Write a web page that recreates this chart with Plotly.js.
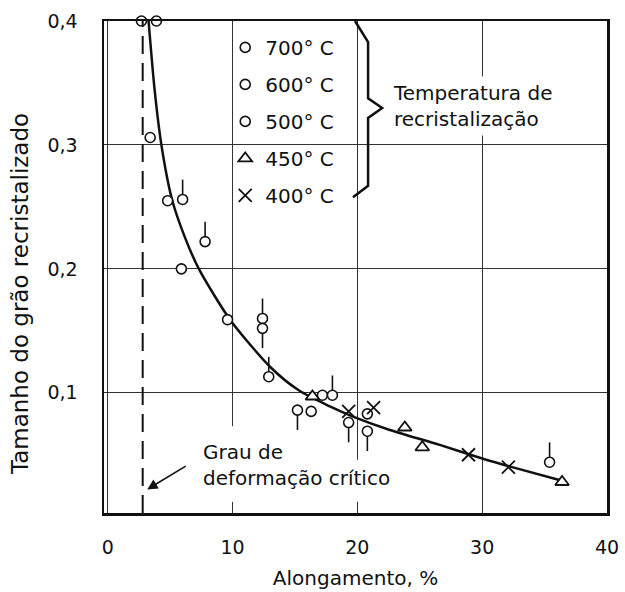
<!DOCTYPE html>
<html>
<head>
<meta charset="utf-8">
<script src="https://cdn.plot.ly/plotly-3.0.1.min.js"></script>
<style>html,body{margin:0;padding:0;background:#fff;}#chart{width:625px;height:592px;}</style>
</head>
<body>
<div id="chart"></div>
<script>
// ---- data ----
const xTicks = [0, 10, 20, 30, 40];
const xTickText = ['0', '10', '20', '30', '40'];
const yTicks = [0.1, 0.2, 0.3, 0.4];
const yTickText = ['0,1', '0,2', '0,3', '0,4'];

const x700 = [2.7, 3.9, 3.4, 4.8, 5.9, 9.6, 16.3, 17.2, 20.8];
const y700 = [0.4, 0.4, 0.306, 0.255, 0.2, 0.159, 0.085, 0.098, 0.083];

const x600 = [6.0, 7.8, 12.4, 12.9, 18.0, 35.4];
const y600 = [0.256, 0.222, 0.160, 0.113, 0.098, 0.044];

const x500 = [12.4, 15.2, 19.3, 20.8];
const y500 = [0.152, 0.086, 0.076, 0.069];

const x450 = [16.4, 23.8, 25.2, 36.4];
const y450 = [0.097, 0.072, 0.056, 0.028];

const x400 = [19.3, 21.3, 28.9, 32.1];
const y400 = [0.085, 0.088, 0.050, 0.040];

const curveX = [3.27, 3.75, 4.3, 5.15, 6.2, 7.3, 9.8, 13.0, 15.3, 17.8, 19.6, 22.6, 26.6, 30.0, 32.4, 36.4];
const curveY = [0.4, 0.345, 0.30, 0.256, 0.225, 0.2, 0.159, 0.121, 0.102, 0.089, 0.081, 0.070, 0.058, 0.047, 0.040, 0.029];

const criticalStrain = 2.8;

const legendNames = ['700° C', '600° C', '500° C', '450° C', '400° C'];

// ---- styles ----
const ink = '#111';
const circleMarker = {symbol: 'circle', size: 10, color: '#fff', line: {color: ink, width: 1.6}};
const stemLen = 0.016;

const traces = [
  {x: curveX, y: curveY, mode: 'lines', line: {color: ink, width: 2.5, shape: 'spline', smoothing: 0.7},
   showlegend: false, hoverinfo: 'skip', cliponaxis: false},
  {x: x700, y: y700, mode: 'markers', name: legendNames[0], legendgroup: 'g700',
   marker: circleMarker, cliponaxis: false},
  {x: x600, y: y600, mode: 'markers', name: legendNames[1], legendgroup: 'g600',
   marker: circleMarker, cliponaxis: false,
   error_y: {type: 'constant', symmetric: false, value: stemLen, valueminus: 0, thickness: 1.6, width: 0, color: ink}},
  {x: x500, y: y500, mode: 'markers', name: legendNames[2], legendgroup: 'g500',
   marker: circleMarker, cliponaxis: false,
   error_y: {type: 'constant', symmetric: false, value: 0, valueminus: stemLen, thickness: 1.6, width: 0, color: ink}},
  {x: x450, y: y450, mode: 'markers', name: legendNames[3], legendgroup: 'g450',
   marker: {symbol: 'triangle-up', size: 12, color: '#fff', line: {color: ink, width: 1.8}}, cliponaxis: false},
  {x: x400, y: y400, mode: 'markers', name: legendNames[4], legendgroup: 'g400',
   marker: {symbol: 'x-thin', size: 13, color: ink, line: {color: ink, width: 1.8}}, cliponaxis: false}
];

const layout = {
  width: 625, height: 592,
  margin: {l: 104, r: 18, t: 21, b: 79},
  paper_bgcolor: '#fff', plot_bgcolor: '#fff',
  font: {family: 'DejaVu Sans, sans-serif', size: 20, color: ink},
  showlegend: true,
  legend: {x: 0.241, xanchor: 'left', y: 0.986, yanchor: 'top', bgcolor: 'rgba(0,0,0,0)',
           font: {size: 20, color: ink}, traceorder: 'grouped', tracegroupgap: 8, itemsizing: 'trace'},
  xaxis: {range: [-0.3, 40], tickvals: xTicks, ticktext: xTickText, ticks: '', ticklabelstandoff: 16,
          showgrid: true, gridcolor: '#333', gridwidth: 1, zeroline: false,
          showline: true, mirror: true, linecolor: ink, linewidth: 2.5,
          tickfont: {size: 19},
          title: {text: 'Alongamento, %', font: {size: 20}, standoff: 14}},
  yaxis: {range: [0.003, 0.4], tickvals: yTicks, ticktext: yTickText, ticks: '', ticklabelstandoff: 20,
          showgrid: true, gridcolor: '#333', gridwidth: 1, zeroline: false,
          showline: true, mirror: true, linecolor: ink, linewidth: 2.5,
          tickfont: {size: 19}},
  shapes: [
    // white patches that interrupt the grid behind the lower note, as in the original
    {type: 'rect', layer: 'between', xref: 'x', yref: 'y', x0: 8, x1: 21.5, y0: 0.012, y1: 0.046,
     fillcolor: '#fff', line: {width: 0}},
    {type: 'rect', layer: 'between', xref: 'x', yref: 'y', x0: 9.5, x1: 10.5, y0: 0.012, y1: 0.073,
     fillcolor: '#fff', line: {width: 0}},
    {type: 'line', xref: 'x', yref: 'paper', x0: criticalStrain, x1: criticalStrain, y0: 0, y1: 1.0,
     line: {color: ink, width: 2, dash: '18px,9px'}},
    {type: 'path', xref: 'paper', yref: 'paper',
     path: 'M0.499,1.0 L0.525,0.957 L0.525,0.843 L0.553,0.823 L0.525,0.803 L0.525,0.665 L0.495,0.642',
     line: {color: ink, width: 2.5}}
  ],
  annotations: [
    {xref: 'paper', yref: 'paper', x: -0.167, y: 0.445, xanchor: 'center', yanchor: 'middle',
     text: 'Tamanho do grão recristalizado', textangle: -90, showarrow: false,
     font: {size: 23, color: ink}},
    {xref: 'paper', yref: 'paper', x: 0.564, y: 0.827, xanchor: 'left', yanchor: 'middle', align: 'left',
     text: 'Temperatura de<br>recristalização', showarrow: false, bgcolor: '#fff', borderpad: 4,
     font: {size: 20, color: ink}},
    {xref: 'paper', yref: 'paper', x: 0.195, y: 0.0976, xanchor: 'left', yanchor: 'middle', align: 'left',
     text: 'Grau de<br>deformação crítico', showarrow: false, borderpad: 0,
     font: {size: 20, color: ink}},
    {xref: 'x', yref: 'y', x: 3.16, y: 0.022, text: ' ', showarrow: true, ax: 43, ay: -26,
     arrowhead: 2, arrowsize: 1.3, arrowwidth: 1.6, arrowcolor: ink, standoff: 0}
  ]
};

Plotly.newPlot('chart', traces, layout, {displayModeBar: false, staticPlot: true});
</script>
</body>
</html>
